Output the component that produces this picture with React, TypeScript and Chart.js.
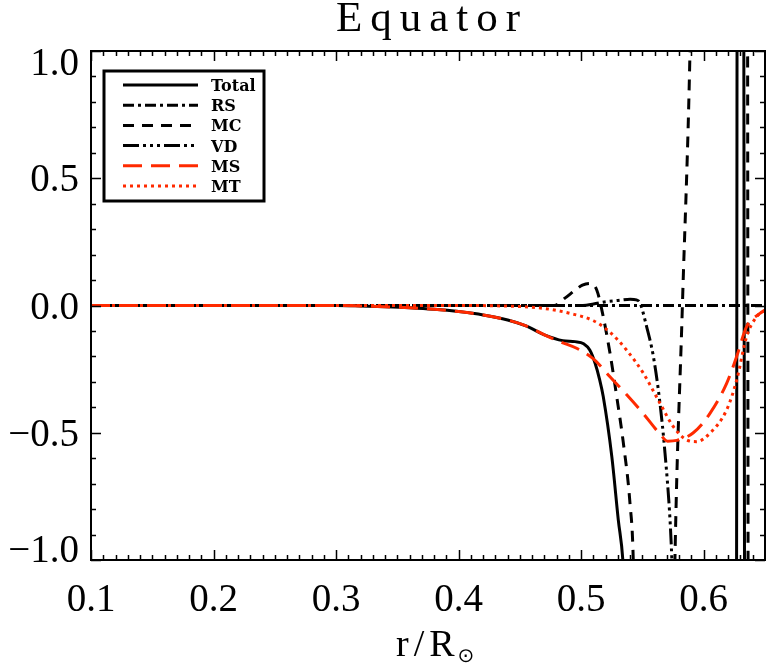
import { useEffect, useRef } from "react";
import { Chart, registerables } from "chart.js";
Chart.register(...registerables);

const X_MIN = 0.1;
const X_MAX = 0.65;
const Y_MIN = -1;
const Y_MAX = 1;

const titleText = "Equator";
const xTickValues = [0.1, 0.2, 0.3, 0.4, 0.5, 0.6];
const xTickLabels = ["0.1", "0.2", "0.3", "0.4", "0.5", "0.6"];
const yTickValues = [-1, -0.5, 0, 0.5, 1];
const yTickLabels = ["\u22121.0", "\u22120.5", "0.0", "0.5", "1.0"];

const seriesNames = ["Total", "RS", "MC", "VD", "MS", "MT"];

const totalX = [0.1, 0.3, 0.32, 0.34, 0.36, 0.38, 0.4, 0.42, 0.44, 0.455, 0.47, 0.485, 0.495, 0.502, 0.507, 0.5113, 0.515, 0.518, 0.525, 0.5303, 0.534, 0.54, 0.56, 0.6, 0.6262, 0.6278, 0.6318, 0.6342, 0.65];
const totalY = [0, 0, -0.002, -0.005, -0.009, -0.015, -0.024, -0.037, -0.057, -0.08, -0.115, -0.138, -0.142, -0.15, -0.175, -0.226, -0.29, -0.358, -0.594, -0.843, -1.0, -1.6, -2.5, -3, -3, 3, 3, -3, -3];

const rsX = [0.1, 0.65];
const rsY = [0, 0];

const mcX = [0.1, 0.478, 0.487, 0.495, 0.501, 0.507, 0.5127, 0.518, 0.5235, 0.529, 0.5344, 0.5398, 0.5425, 0.548, 0.572, 0.5765, 0.5826, 0.5888, 0.594, 0.634, 0.6352, 0.6368, 0.65];
const mcY = [0, 0, 0.03, 0.06, 0.08, 0.087, 0.061, -0.044, -0.187, -0.358, -0.54, -0.776, -1.0, -2.5, -2.5, -1.0, 0, 1.0, 2.5, 3, 3, -3, -3];

const vdX = [0.1, 0.5, 0.51, 0.52, 0.53, 0.54, 0.545, 0.548, 0.5534, 0.5589, 0.5643, 0.5684, 0.5725, 0.574, 0.58, 0.65];
const vdY = [0, 0, 0.006, 0.015, 0.02, 0.025, 0.022, 0.01, -0.083, -0.2, -0.384, -0.58, -0.843, -1.0, -2, -2];

const msX = [0.1, 0.3, 0.32, 0.34, 0.36, 0.38, 0.4, 0.42, 0.44, 0.455, 0.47, 0.4827, 0.4963, 0.51, 0.5235, 0.537, 0.5507, 0.5643, 0.5705, 0.578, 0.5915, 0.6051, 0.6187, 0.6269, 0.635, 0.6459, 0.65];
const msY = [0, 0, -0.002, -0.005, -0.009, -0.015, -0.024, -0.037, -0.057, -0.08, -0.115, -0.142, -0.168, -0.21, -0.28, -0.35, -0.425, -0.505, -0.533, -0.53, -0.5, -0.424, -0.306, -0.2, -0.083, -0.031, -0.018];

const mtX = [0.1, 0.4, 0.428, 0.45, 0.469, 0.4909, 0.51, 0.5235, 0.537, 0.5507, 0.5643, 0.5752, 0.586, 0.5942, 0.605, 0.6187, 0.6269, 0.635, 0.6432, 0.65];
const mtY = [0, 0, -0.001, -0.004, -0.011, -0.031, -0.06, -0.105, -0.175, -0.266, -0.384, -0.476, -0.528, -0.535, -0.502, -0.41, -0.293, -0.122, -0.044, -0.018];

const BLACK = "#000000";
const RED = "#ff2a00";

function makeSet(label: string, xs: number[], ys: number[], color: string, dash: number[], order: number) {
  return {
    label,
    data: xs.map((x, i) => ({ x, y: ys[i] })),
    borderColor: color,
    backgroundColor: color,
    borderWidth: 3,
    borderDash: dash,
    pointRadius: 0,
    fill: false,
    cubicInterpolationMode: "monotone" as const,
    order,
  };
}

const TICK_FONT = "39px 'Liberation Serif', serif";

const decorPlugin = {
  id: "idlDecor",
  afterDraw(chart: any) {
    const ctx: CanvasRenderingContext2D = chart.ctx;
    const xs = chart.scales.x;
    const ys = chart.scales.y;
    const a = chart.chartArea;
    ctx.save();
    ctx.setLineDash([]);
    ctx.strokeStyle = BLACK;
    ctx.fillStyle = BLACK;

    // ticks (inward, all four sides)
    ctx.lineWidth = 1.5;
    for (let i = 10; i <= 65; i++) {
      const px = Math.round(xs.getPixelForValue(i / 100)) + 0.5;
      const len = i % 10 === 0 ? 10 : 5;
      ctx.beginPath();
      ctx.moveTo(px, a.bottom);
      ctx.lineTo(px, a.bottom - len);
      ctx.moveTo(px, a.top);
      ctx.lineTo(px, a.top + len);
      ctx.stroke();
    }
    for (let i = -10; i <= 10; i++) {
      const py = Math.round(ys.getPixelForValue(i / 10)) + 0.5;
      const len = i % 5 === 0 ? 10 : 5;
      ctx.beginPath();
      ctx.moveTo(a.left, py);
      ctx.lineTo(a.left + len, py);
      ctx.moveTo(a.right, py);
      ctx.lineTo(a.right - len, py);
      ctx.stroke();
    }

    // frame
    ctx.lineWidth = 2;
    ctx.strokeRect(a.left, a.top, a.right - a.left, a.bottom - a.top);

    // x tick labels
    ctx.font = TICK_FONT;
    ctx.textAlign = "center";
    ctx.textBaseline = "alphabetic";
    xTickValues.forEach((v, i) => {
      ctx.fillText(xTickLabels[i], xs.getPixelForValue(v), 611);
    });

    // y tick labels
    ctx.textAlign = "right";
    yTickValues.forEach((v, i) => {
      let py = ys.getPixelForValue(v);
      if (v === Y_MAX) py += 11;
      if (v === Y_MIN) py -= 11;
      ctx.fillText(yTickLabels[i], 79, py + 13);
    });

    // x axis title r/R_sun
    ctx.textAlign = "left";
    ctx.font = "38px 'Liberation Serif', serif";
    (ctx as any).letterSpacing = "5px";
    const main = "r/R";
    ctx.fillText(main, 396, 656);
    const w = ctx.measureText(main).width;
    (ctx as any).letterSpacing = "0px";
    ctx.font = "20px 'DejaVu Sans', sans-serif";
    ctx.fillText("\u2299", 396 + w - 2, 662);

    // title
    ctx.font = "43px 'Liberation Serif', serif";
    (ctx as any).letterSpacing = "8px";
    ctx.textAlign = "left";
    ctx.fillText(titleText, 336, 31);
    (ctx as any).letterSpacing = "0px";

    // legend
    const lx0 = 104, ly0 = 71, lx1 = 264, ly1 = 201;
    ctx.fillStyle = "#ffffff";
    ctx.fillRect(lx0, ly0, lx1 - lx0, ly1 - ly0);
    ctx.lineWidth = 3;
    ctx.strokeStyle = BLACK;
    ctx.strokeRect(lx0, ly0, lx1 - lx0, ly1 - ly0);
    ctx.font = "bold 16px 'DejaVu Serif', serif";
    ctx.textAlign = "left";
    chart.data.datasets.forEach((ds: any, i: number) => {
      const y = 85 + i * 20.2;
      ctx.save();
      ctx.strokeStyle = ds.borderColor;
      ctx.lineWidth = 3;
      ctx.setLineDash(ds.borderDash || []);
      ctx.beginPath();
      ctx.moveTo(123, y);
      ctx.lineTo(198, y);
      ctx.stroke();
      ctx.restore();
      ctx.fillStyle = BLACK;
      ctx.fillText(ds.label, 211, y + 6);
    });

    ctx.restore();
  },
};

export default function App() {
  const ref = useRef<HTMLCanvasElement>(null);
  useEffect(() => {
    document.body.style.margin = "0";
    const canvas = ref.current;
    if (!canvas) return;
    const datasets = [
      makeSet(seriesNames[0], totalX, totalY, BLACK, [], 6),
      makeSet(seriesNames[1], rsX, rsY, BLACK, [11, 4, 3, 4], 5),
      makeSet(seriesNames[2], mcX, mcY, BLACK, [11, 8], 4),
      makeSet(seriesNames[3], vdX, vdY, BLACK, [16, 4, 3, 4, 3, 4, 3, 4], 3),
      makeSet(seriesNames[4], msX, msY, RED, [19, 9], 2),
      makeSet(seriesNames[5], mtX, mtY, RED, [3, 4], 1),
    ];
    const chart = new Chart(canvas, {
      type: "line",
      data: { datasets } as any,
      options: {
        responsive: false,
        animation: false,
        devicePixelRatio: 1,
        events: [],
        layout: { padding: { left: 91, top: 51, right: 1, bottom: 104 } },
        scales: {
          x: { type: "linear", min: X_MIN, max: X_MAX, display: false },
          y: { type: "linear", min: Y_MIN, max: Y_MAX, display: false },
        },
        plugins: {
          legend: { display: false },
          tooltip: { enabled: false },
          title: { display: false },
        },
      },
      plugins: [decorPlugin],
    });
    return () => chart.destroy();
  }, []);
  return <canvas ref={ref} width={766} height={664} style={{ display: "block" }} />;
}
